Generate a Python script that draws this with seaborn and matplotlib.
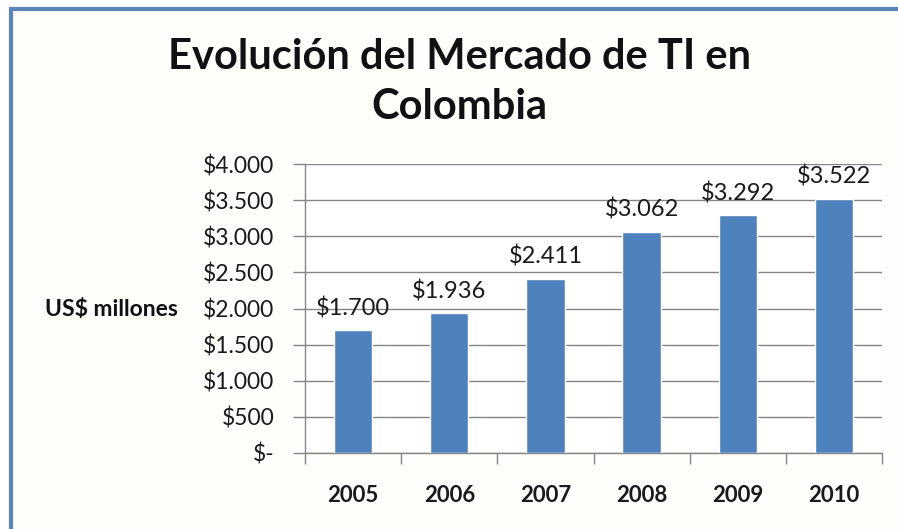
import matplotlib
matplotlib.use("Agg")
import matplotlib.pyplot as plt
import seaborn as sns
import pandas as pd
from matplotlib.patches import Rectangle
from matplotlib.ticker import FixedLocator

# Data: IT market in Colombia, US$ millions
years = ["2005", "2006", "2007", "2008", "2009", "2010"]
values = [1700, 1936, 2411, 3062, 3292, 3522]
y_ticks = [0, 500, 1000, 1500, 2000, 2500, 3000, 3500, 4000]
y_tick_labels = ["$-", "$500", "$1.000", "$1.500", "$2.000",
                 "$2.500", "$3.000", "$3.500", "$4.000"]
value_labels = ["$1.700", "$1.936", "$2.411", "$3.062", "$3.292", "$3.522"]

sns.set_theme(style="white")
plt.rcParams["font.family"] = ["Lato", "DejaVu Sans"]

W, H = 898, 529
fig = plt.figure(figsize=(W / 100, H / 100), dpi=100)
fig.patch.set_facecolor("white")

# outer frame (left and top edges of a blue border)
fig.add_artist(Rectangle((11 / W, -0.05), 1.2, 1.05 - 9 / H, transform=fig.transFigure,
                         facecolor="#fffefb", edgecolor="#5b84bb", linewidth=3.0,
                         zorder=-10))

ax = fig.add_axes([305 / W, 1 - 453 / H, (882 - 305) / W, (453 - 164) / H])
ax.set_facecolor("white")

df = pd.DataFrame({"year": years, "value": values})
sns.barplot(data=df, x="year", y="value", color="#4f81bd", saturation=1,
            width=0.4, ax=ax, zorder=3)

ax.set_ylim(0, 4000)
ax.set_xlim(-0.5, len(years) - 0.5)
ax.yaxis.set_major_locator(FixedLocator(y_ticks))
ax.set_yticklabels(y_tick_labels)
ax.grid(axis="y", color="#868686", linewidth=1.0, zorder=0)
ax.grid(axis="x", visible=False)

# category separators as major ticks, year labels on minor ticks
ax.xaxis.set_major_locator(FixedLocator([i - 0.5 for i in range(len(years) + 1)]))
ax.xaxis.set_minor_locator(FixedLocator(list(range(len(years)))))
ax.set_xticklabels([], minor=False)
ax.set_xticklabels(years, minor=True)
ax.tick_params(axis="x", which="major", direction="out", length=8, width=1,
               color="#868686", bottom=True)
ax.tick_params(axis="x", which="minor", length=0, pad=23, labelsize=16,
               labelcolor="#1a1a1a")
for lbl in ax.get_xticklabels(minor=True):
    lbl.set_fontweight("bold")
ax.tick_params(axis="y", direction="out", length=9, width=1, color="#868686",
               left=True, pad=13, labelsize=16.5, labelcolor="#1a1a1a")

for side in ["top", "right"]:
    ax.spines[side].set_visible(False)
for side in ["left", "bottom"]:
    ax.spines[side].set_color("#868686")
    ax.spines[side].set_linewidth(1.0)

ax.set_xlabel("")
ax.set_ylabel("")

ax.bar_label(ax.containers[0], labels=value_labels, padding=8, fontsize=17,
             color="#1a1a1a")

fig.text(111 / W, 1 - 309 / H, "US$ millones", ha="center", va="center",
         fontsize=16.5, fontweight="bold", color="#111111")

fig.text(460 / W, 1 - 57 / H, "Evolución del Mercado de TI en", ha="center",
         va="center", fontsize=30, fontweight="bold", color="#111111")
fig.text(459 / W, 1 - 107 / H, "Colombia", ha="center",
         va="center", fontsize=30, fontweight="bold", color="#111111")

fig.savefig("out.png", dpi=100, facecolor=fig.get_facecolor())
